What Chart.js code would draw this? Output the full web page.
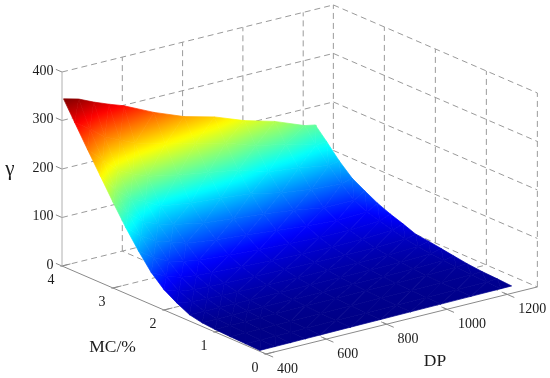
<!DOCTYPE html>
<html><head><meta charset="utf-8">
<style>html,body{margin:0;padding:0;background:#fff}canvas{display:block}</style>
<script src="https://cdn.jsdelivr.net/npm/chart.js@4"></script>
</head><body><canvas id="c" width="550" height="378"></canvas>
<script>
// ---- data ----
const dpTicks = [400, 600, 800, 1000, 1200];
const mcTicks = [0, 1, 2, 3, 4];
const gammaTicks = [0, 100, 200, 300, 400];
const mcRows = [0.12, 0.4, 0.7, 1, 1.25, 1.5, 1.75, 2, 2.25, 2.5, 2.75, 3, 3.25, 3.5, 3.75, 3.97];
const dpCols = [400, 450, 500, 550, 600, 700, 800, 900, 1000, 1100, 1200, 1235];
const gamma400  = [2.0, 3.0, 4.0, 5.2, 7.5, 13, 26, 42, 66, 99, 136, 177, 220, 263, 307, 346];
const gamma450  = [2.2, 3.2, 4.3, 5.6, 8.0, 12.5, 20.5, 31, 50, 78, 111, 147, 184, 234, 286, 338];
const gamma500  = [2.5, 3.5, 4.6, 6.0, 8.5, 12.5, 19, 27, 41, 63, 93, 121, 158, 205, 262, 324];
const gamma550  = [2.8, 3.8, 5.0, 6.4, 9.0, 12.5, 18, 25.5, 37, 55, 83, 109, 144, 190, 248, 312];
const gamma600  = [3.1, 4.1, 5.3, 6.8, 9.3, 12.6, 17.5, 24.5, 34.5, 49, 73, 100, 127, 177, 234, 301];
const gamma700  = [3.7, 4.7, 5.8, 7.3, 9.6, 12.7, 17, 23, 31.5, 44, 65, 88, 118, 164, 217, 272];
const gamma800  = [4.2, 5.2, 6.3, 7.7, 9.9, 12.7, 16.5, 22, 29.5, 40, 59, 82, 113, 154, 202, 248];
const gamma900  = [4.8, 5.8, 6.8, 8.0, 10.1, 12.8, 16.3, 21, 27.5, 37, 53, 76, 106, 144, 188, 232];
const gamma1000 = [5.3, 6.3, 7.2, 8.4, 10.4, 13, 16.2, 20.5, 26.5, 34.5, 47, 68, 93, 125, 167, 209];
const gamma1100 = [5.9, 6.8, 7.7, 8.9, 10.9, 13.5, 16.8, 21, 27, 34, 43, 58, 85, 117, 155, 192];
const gamma1200 = [6.4, 7.6, 8.8, 10.5, 13, 16, 19.5, 23.5, 30, 38, 45, 58, 80, 107, 138, 168];
const gamma1235 = [6.6, 8.5, 10, 13, 17, 21, 25, 28, 38, 47, 58, 72, 87, 111, 140, 164];
const gammaCols = [gamma400, gamma450, gamma500, gamma550, gamma600, gamma700, gamma800, gamma900, gamma1000, gamma1100, gamma1200, gamma1235];

// ---- view ----
const GRID = '#9a9a9a', AXIS = '#8a8a8a', TEXT = '#1c1c1c';
const DP_MIN = 400, DP_MAX = 1300, MC_MAX = 4, G_MAX = 400;
const C_MIN = 2, C_MAX = 346, LEVELS = 64;
function project(dp, mc, g) {
  const u = dp - DP_MIN;
  return { x: 266 + 0.3015 * u - 51 * mc, y: 354 - 0.0745 * u - 22 * mc - 0.485 * g };
}
function jet(t) {
  const f = (v) => Math.round(255 * Math.max(0, Math.min(1, v)));
  return `rgb(${f(1.5 - Math.abs(4 * t - 3))},${f(1.5 - Math.abs(4 * t - 2))},${f(1.5 - Math.abs(4 * t - 1))})`;
}
const bands = [];
for (let i = 0; i < LEVELS; i++) bands.push(jet((i + 0.5) / LEVELS));

const ctx = document.getElementById('c').getContext('2d');
function triPaint(a, b, c) {
  // colour varies linearly over a triangle; aim a gradient along that slope
  const d = (b.p.x - a.p.x) * (c.p.y - a.p.y) - (c.p.x - a.p.x) * (b.p.y - a.p.y);
  const gx = ((b.g - a.g) * (c.p.y - a.p.y) - (c.g - a.g) * (b.p.y - a.p.y)) / d;
  const gy = ((c.g - a.g) * (b.p.x - a.p.x) - (b.g - a.g) * (c.p.x - a.p.x)) / d;
  const n = gx * gx + gy * gy;
  if (n < 1e-4) {
    const t = Math.max(0, Math.min(LEVELS - 1, Math.floor((a.g - C_MIN) / (C_MAX - C_MIN) * LEVELS)));
    return bands[t];
  }
  const at = (v) => ({ x: a.p.x + gx * (v - a.g) / n, y: a.p.y + gy * (v - a.g) / n });
  const s = at(C_MIN), e = at(C_MAX);
  const grad = ctx.createLinearGradient(s.x, s.y, e.x, e.y);
  bands.forEach((col, i) => grad.addColorStop((i + 0.5) / LEVELS, col));
  return grad;
}
const datasets = [];
function vert(i, j) {
  const g = gammaCols[i][j];
  return { p: project(dpCols[i], mcRows[j], g), g };
}
function addTri(a, b, c) {
  const paint = triPaint(a, b, c);
  datasets.push({
    data: [a.p, b.p, c.p, a.p], showLine: true, fill: 'shape', tension: 0,
    backgroundColor: paint, borderColor: paint, borderWidth: 0.7, pointRadius: 0,
    borderJoinStyle: 'round', clip: false
  });
}
for (let i = 0; i < dpCols.length - 1; i++) {
  for (let j = 0; j < mcRows.length - 1; j++) {
    const a = vert(i, j), b = vert(i + 1, j), c = vert(i + 1, j + 1), d = vert(i, j + 1);
    addTri(a, b, c);
    addTri(a, c, d);
  }
}
function addLine(from, to, color, dash) {
  datasets.push({
    data: [project(...from), project(...to)], showLine: true, fill: false,
    borderColor: color, borderWidth: 1, borderDash: dash, pointRadius: 0, clip: false
  });
}
const DASH = [6, 4];
// axis lines and tick marks
addLine([DP_MIN, MC_MAX, 0], [DP_MIN, MC_MAX, G_MAX], '#b0b0b0', []);
addLine([DP_MIN, 0, 0], [DP_MAX, 0, 0], AXIS, []);
addLine([DP_MIN, 0, 0], [DP_MIN, MC_MAX, 0], AXIS, []);
gammaTicks.forEach(g => addLine([DP_MIN, MC_MAX, g], [DP_MIN, MC_MAX + 0.12, g], AXIS, []));
mcTicks.forEach(m => addLine([DP_MIN - 5, m, 0], [DP_MIN + 28, m, 0], AXIS, []));
dpTicks.forEach(d => addLine([d, 0.07, 0], [d, -0.14, 0], AXIS, []));
// dashed walls and floor
gammaTicks.forEach(g => {
  addLine([DP_MIN, MC_MAX, g], [DP_MAX, MC_MAX, g], GRID, DASH);
  addLine([DP_MAX, MC_MAX, g], [DP_MAX, 0, g], GRID, DASH);
});
dpTicks.concat([DP_MAX]).forEach(d => {
  if (d > DP_MIN) addLine([d, MC_MAX, 0], [d, MC_MAX, G_MAX], GRID, DASH);
  if (d > DP_MIN && d < DP_MAX) addLine([d, 0, 0], [d, MC_MAX, 0], GRID, DASH);
});
mcTicks.forEach(m => {
  if (m < MC_MAX) addLine([DP_MAX, m, 0], [DP_MAX, m, G_MAX], GRID, DASH);
  if (m > 0 && m < MC_MAX) addLine([DP_MIN, m, 0], [DP_MAX, m, 0], GRID, DASH);
});

const textPlugin = {
  id: 'axisText',
  afterDraw(chart) {
    const c = chart.ctx;
    c.save();
    c.fillStyle = TEXT;
    c.textBaseline = 'middle';
    c.font = '14px "Liberation Serif"';
    c.textAlign = 'right';
    gammaTicks.forEach(g => { const p = project(DP_MIN, MC_MAX, g); c.fillText(String(g), p.x - 8.5, p.y - 1); });
    c.textAlign = 'center';
    mcTicks.forEach(m => { const p = project(DP_MIN, m, 0); c.fillText(String(m), p.x - 11, p.y + 14); });
    c.textAlign = 'left';
    dpTicks.forEach(d => { const p = project(d, 0, 0); c.fillText(String(d), p.x + 11, p.y + 15.4); });
    c.textAlign = 'center';
    c.font = '17.5px "Liberation Serif"';
    c.fillText('MC/%', 112.5, 347);
    c.fillText('DP', 435, 361);
    c.font = '21px "Liberation Serif"';
    c.fillText('γ', 10, 169);
    c.restore();
  }
};

new Chart(ctx, {
  type: 'scatter',
  data: { datasets },
  plugins: [textPlugin],
  options: {
    responsive: false, animation: false, devicePixelRatio: 1,
    layout: { padding: 0 },
    events: [],
    plugins: { legend: { display: false }, tooltip: { enabled: false } },
    scales: {
      x: { type: 'linear', min: 0, max: 550, display: false },
      y: { type: 'linear', min: 0, max: 378, reverse: true, display: false }
    }
  }
});
</script></body></html>
